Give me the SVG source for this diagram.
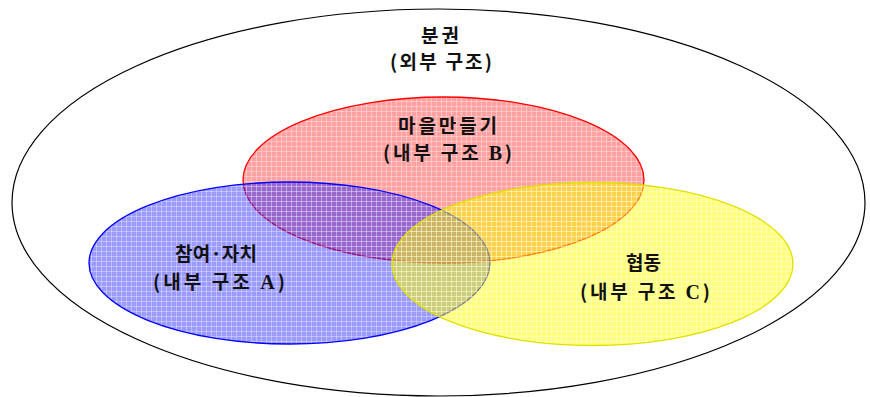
<svg xmlns="http://www.w3.org/2000/svg" width="870" height="397" viewBox="0 0 870 397">
<style>
.t{font-family:"Noto Sans CJK KR","Noto Sans",sans-serif;font-size:19px;font-weight:700;fill:#111;text-anchor:middle}
.s{font-family:"Liberation Serif",serif;font-weight:700;font-size:20px}
</style>
<defs>
<pattern id="pR" width="5" height="5" patternUnits="userSpaceOnUse">
<rect width="5" height="5" fill="#ff2020" fill-opacity="0.42"/>
<path d="M0 1.5H5M1.5 0V5" stroke="#fff" stroke-opacity="0.35" stroke-width="1"/>
</pattern>
<pattern id="pB" width="5" height="5" patternUnits="userSpaceOnUse">
<rect width="5" height="5" fill="#2020ff" fill-opacity="0.45"/>
<path d="M0 1.5H5M1.5 0V5" stroke="#fff" stroke-opacity="0.35" stroke-width="1"/>
</pattern>
<pattern id="pY" width="5" height="5" patternUnits="userSpaceOnUse">
<rect width="5" height="5" fill="#ffff00" fill-opacity="0.5"/>
<path d="M0 1.5H5M1.5 0V5" stroke="#fff" stroke-opacity="0.35" stroke-width="1"/>
</pattern>
</defs>
<g id="outer">
<ellipse cx="438.5" cy="202.5" rx="426.5" ry="193.5" fill="#fff" stroke="#000" stroke-width="1.2"/>
<text class="t" x="440" y="43" textLength="38" lengthAdjust="spacing">분권</text>
<text class="t" x="441" y="69" textLength="102" lengthAdjust="spacing">(외부 구조)</text>
</g>
<g id="nodeB">
<ellipse cx="443.5" cy="180" rx="200.5" ry="83" fill="url(#pR)" stroke="#ff0000" stroke-width="1.3"/>
</g>
<g id="nodeA">
<ellipse cx="289.5" cy="263" rx="200.5" ry="81" fill="url(#pB)" stroke="#0000ff" stroke-width="1.3"/>
</g>
<g id="nodeC">
<ellipse cx="592.5" cy="264" rx="200.5" ry="81.5" fill="url(#pY)" stroke="#e0e000" stroke-width="1.3"/>
</g>
<g id="labels">
<text class="t" x="447.5" y="133" textLength="99" lengthAdjust="spacing">마을만들기</text>
<text class="t" x="447.5" y="160" textLength="129" lengthAdjust="spacing">(내부  구조 <tspan class="s">B</tspan>)</text>
<text class="t" x="216" y="261" textLength="82" lengthAdjust="spacing">참여·자치</text>
<text class="t" x="219" y="289" textLength="132" lengthAdjust="spacing">(내부 구조 <tspan class="s">A</tspan>)</text>
<text class="t" x="643.5" y="270" textLength="35" lengthAdjust="spacing">협동</text>
<text class="t" x="645" y="299" textLength="130" lengthAdjust="spacing">(내부 구조 <tspan class="s">C</tspan>)</text>
</g>
<g id="connectors"/>
</svg>
